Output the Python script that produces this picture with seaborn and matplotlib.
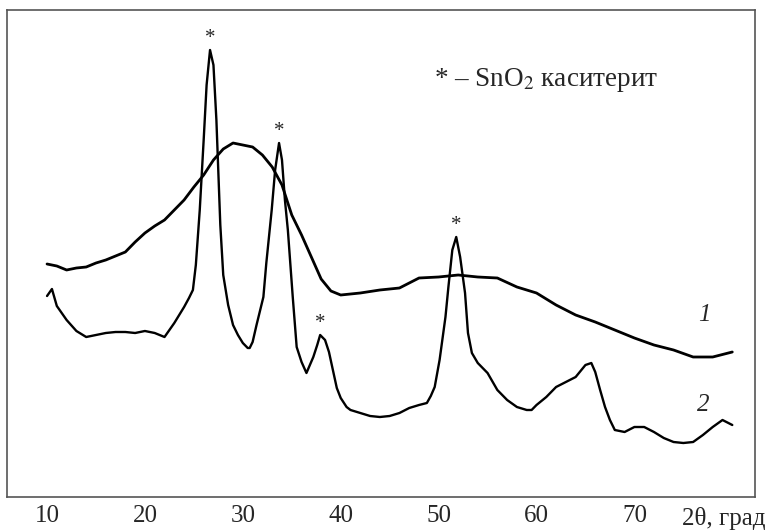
import pandas as pd
import matplotlib
matplotlib.use("Agg")
import matplotlib.pyplot as plt
import seaborn as sns

# curve 1 - broad amorphous halo
two_theta_1 = [10, 11, 12, 13, 14, 15, 16, 17, 18, 19, 20, 21, 22, 23, 24, 25, 26, 27, 28, 29,
               30, 31, 32, 33, 34, 35, 36, 37, 38, 39, 40, 42, 44, 46, 48, 50, 52, 54, 56, 58,
               60, 62, 64, 66, 68, 70, 72, 74, 76, 78, 80]
intensity_1 = [233, 231, 227, 229, 230, 234, 237, 241, 245, 255, 264, 271, 277, 287, 297, 310, 322, 337, 348, 354,
               352, 350, 342, 330, 312, 282, 262, 240, 218, 206, 202, 204, 207, 209, 219, 220, 222, 220, 219, 210,
               204, 192, 182, 175, 167, 159, 152, 147, 140, 140, 145]

# curve 2 - with SnO2 peaks
two_theta_2 = [10.0, 10.5, 11.0, 12.0, 13.0, 14.0, 15.0, 16.0, 17.0, 18.0, 19.0, 20.0, 21.0, 22.0, 23.0, 24.0,
               24.5, 24.9, 25.2, 25.6, 26.0, 26.3, 26.65, 27.0, 27.3, 27.7, 28.0, 28.5, 29.0, 29.5, 30.0, 30.5,
               30.7, 31.0, 31.4, 32.1, 32.4, 32.95, 33.3, 33.7, 34.0, 34.3, 34.6, 35.1, 35.5, 36.0, 36.5, 37.2,
               37.6, 37.9, 38.4, 38.8, 39.2, 39.6, 40.0, 40.6, 41.0, 42.0, 43.0, 44.0, 45.0, 46.0, 47.0, 48.0,
               48.8, 49.2, 49.6, 50.1, 50.7, 51.0, 51.4, 51.8, 52.2, 52.7, 53.0, 53.4, 54.0, 55.0, 56.0, 57.0,
               58.0, 59.0, 59.5, 60.0, 61.0, 62.0, 63.0, 64.0, 65.0, 65.6, 66.0, 66.5, 67.0, 67.5, 68.0, 69.0,
               70.0, 71.0, 72.0, 73.0, 74.0, 75.0, 76.0, 77.0, 78.0, 79.0, 80.0]
intensity_2 = [201, 208, 191, 177, 166, 160, 162, 164, 165, 165, 164, 166, 164, 160, 174, 190,
               199, 207, 232, 287, 357, 412, 447, 432, 377, 272, 222, 192, 172, 162, 154, 149,
               149, 155, 172, 200, 234, 287, 327, 354, 337, 297, 267, 200, 150, 135, 124, 140,
               152, 162, 157, 145, 127, 109, 99, 90, 87, 84, 81, 80, 81, 84, 89, 92,
               94, 101, 110, 137, 180, 210, 247, 260, 240, 204, 164, 144, 134, 124, 107, 97,
               90, 87, 87, 92, 100, 110, 115, 120, 132, 134, 125, 107, 90, 77, 67, 65,
               70, 70, 65, 59, 55, 54, 55, 62, 70, 77, 72]

# SnO2 (cassiterite) reflections marked with *
star_x = [26.65, 33.7, 37.9, 51.8]
star_y = [447, 354, 162, 260]

tick_values = [10, 20, 30, 40, 50, 60, 70, 80]
tick_labels = ["10", "20", "30", "40", "50", "60", "70", ""]

sns.set_style("white")
plt.rcParams["font.family"] = ["Liberation Serif", "DejaVu Serif"]
plt.rcParams["mathtext.fontset"] = "stix"

df1 = pd.DataFrame({"x": two_theta_1, "y": intensity_1})
df2 = pd.DataFrame({"x": two_theta_2, "y": intensity_2})

fig = plt.figure(figsize=(7.65, 5.3), dpi=100)
ax = fig.add_axes([7 / 765, 33 / 530, 748 / 765, 487 / 530])

sns.lineplot(data=df1, x="x", y="y", color="black", lw=2.0, ax=ax)
sns.lineplot(data=df2, x="x", y="y", color="black", lw=1.7, ax=ax)

for sx, sy in zip(star_x, star_y):
    ax.annotate("*", (sx, sy), xytext=(0, 8), textcoords="offset points",
                ha="center", va="center", fontsize=15)

ax.text(0.571, 0.856, r"* – SnO$_2$ каситерит", transform=ax.transAxes,
        ha="left", va="center", fontsize=19.5)
ax.text(0.932, 0.374, "1", transform=ax.transAxes, ha="center", va="center",
        fontsize=18, style="italic")
ax.text(0.931, 0.189, "2", transform=ax.transAxes, ha="center", va="center",
        fontsize=18, style="italic")
fig.text(682 / 765, 1 - 518 / 530, "2θ, град", ha="left", va="center", fontsize=18)

ax.set_xlim(5.91, 82.32)
ax.set_ylim(0, 487)
ax.set_xticks(tick_values)
ax.set_xticklabels(tick_labels)
ax.set_yticks([])
ax.set_xlabel("")
ax.set_ylabel("")
ax.tick_params(axis="x", direction="in", length=6, width=1, color="#444444",
               labelsize=18, pad=6)
for sp in ax.spines.values():
    sp.set_color("#555555")
    sp.set_linewidth(1.2)

plt.savefig("out.png", dpi=100)
